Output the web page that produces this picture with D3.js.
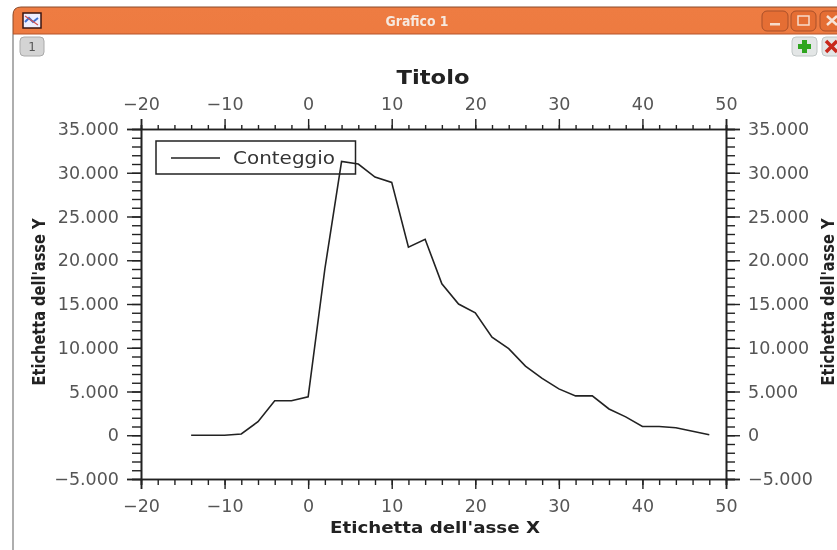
<!DOCTYPE html>
<html><head><meta charset="utf-8">
<script src="https://cdn.jsdelivr.net/npm/d3@7/dist/d3.min.js"></script>
<style>html,body{margin:0;padding:0;background:#fff;overflow:hidden}svg{display:block}</style>
</head><body><svg id="c" width="837" height="550"></svg>
<script>
const xValues=[-14,-12,-10,-8,-6,-4,-2,0,2,4,6,8,10,12,14,16,18,20,22,24,26,28,30,32,34,36,38,40,42,44,46,48];
const counts=[0,0,0,150,1550,3950,3950,4400,19000,31300,31000,29500,28900,21500,22400,17300,15000,14000,11200,9900,7900,6500,5300,4500,4500,3000,2100,1000,1000,850,450,50];
const xTicks=[-20,-10,0,10,20,30,40,50];
const yTicks=[-5000,0,5000,10000,15000,20000,25000,30000,35000];
const xMinor=d3.range(-20,51,2);
const yMinor=d3.range(-5000,35001,1000);
const seriesName="Conteggio",chartTitle="Titolo",xLabel="Etichetta dell'asse X",yLabel="Etichetta dell'asse Y",windowTitle="Grafico 1";

const svg=d3.select("#c");
const defs=svg.append("defs");
const g0=defs.append("linearGradient").attr("id","bar").attr("x1",0).attr("x2",0).attr("y1",0).attr("y2",1);
g0.append("stop").attr("offset",0).attr("stop-color","#ee7c42");
g0.append("stop").attr("offset",0.5).attr("stop-color","#e56e34");
g0.append("stop").attr("offset",1).attr("stop-color","#d9622b");
defs.append("filter").attr("id","soft").attr("color-interpolation-filters","sRGB").attr("filterUnits","userSpaceOnUse").attr("x",0).attr("y",0).attr("width",837).attr("height",550)
 .append("feGaussianBlur").attr("stdDeviation",0.5);
const root=svg.append("g").attr("filter","url(#soft)");

// window frame
root.append("path").attr("d","M13,550V15Q13,7 21,7H837V34H13").attr("fill","url(#bar)");
root.append("path").attr("d","M13,34V15Q13,7 21,7H837").attr("fill","none").attr("stroke","#8a4a2a").attr("stroke-width",1);
root.append("line").attr("x1",13).attr("x2",13).attr("y1",34).attr("y2",550).attr("stroke","#8c8c8c").attr("stroke-width",1.4);
root.append("line").attr("x1",13).attr("x2",837).attr("y1",34).attr("y2",34).attr("stroke","#b5552a");
root.append("text").attr("x",417).attr("y",26).attr("text-anchor","middle").attr("fill","#f6e9df")
 .attr("font-family","DejaVu Sans").attr("font-weight","bold").attr("font-size",14).attr("textLength",63).attr("lengthAdjust","spacingAndGlyphs").text(windowTitle);
// window icon
root.append("rect").attr("x",23).attr("y",13).attr("width",18).attr("height",15).attr("fill","#eef").attr("stroke","#3a1510").attr("stroke-width",1.5);
root.append("path").attr("d","M25,22L29,18L33,22L38,18").attr("fill","none").attr("stroke","#3c6fd0").attr("stroke-width",2);
root.append("path").attr("d","M25,16L38,25").attr("fill","none").attr("stroke","#d05050").attr("stroke-width",1.2);
// window buttons
[[762,26],[791,25],[820,25]].forEach(([bx,bw])=>{
 root.append("rect").attr("x",bx).attr("y",11).attr("width",bw).attr("height",20).attr("rx",5).attr("fill","#e56e34").attr("stroke","#a9502a").attr("stroke-width",1);
});
root.append("rect").attr("x",770).attr("y",23).attr("width",10).attr("height",2.5).attr("fill","#f7dccb");
root.append("rect").attr("x",798).attr("y",16).attr("width",11).attr("height",9).attr("fill","none").attr("stroke","#f7dccb").attr("stroke-width",1.5);
root.append("path").attr("d","M827,16L837,25M837,16L827,25").attr("stroke","#f7e4d8").attr("stroke-width",2.5);
// tab and toolbar buttons
root.append("rect").attr("x",20).attr("y",37).attr("width",24).attr("height",19).attr("rx",4).attr("fill","#d4d4d4").attr("stroke","#aaa");
root.append("text").attr("x",32).attr("y",51).attr("text-anchor","middle").attr("font-family","DejaVu Sans").attr("font-size",12).attr("fill","#555").text("1");
[792,822].forEach(bx=>root.append("rect").attr("x",bx).attr("y",37).attr("width",25).attr("height",19).attr("rx",4).attr("fill","#e3e6e6").attr("stroke","#c0c6c6"));
root.append("path").attr("d","M804.5,40V53M798,46.5H811").attr("stroke","#2fa51f").attr("stroke-width",5);
root.append("path").attr("d","M826,41L837,52M837,41L826,52").attr("stroke","#c8281c").attr("stroke-width",3.5);

// plot
const x=d3.scaleLinear().domain([-20,50]).range([141,726]);
const y=d3.scaleLinear().domain([-5000,35000]).range([479,129]);
const fmt=v=>(v<0?"\u2212":"")+d3.format(",")(Math.abs(v)).replace(/,/g,".");
const axisCol="#222",txt="#555";
const font="DejaVu Sans";

function draw(axis,minorAxis,pos){
 const m=root.append("g").attr("transform",pos).call(minorAxis);
 const a=root.append("g").attr("transform",pos).call(axis);
 [m,a].forEach(s=>{
  s.selectAll(".domain").attr("stroke",axisCol).attr("stroke-width",1.6);
  s.selectAll("line").attr("stroke",axisCol).attr("stroke-width",1.4);
  s.selectAll("text").attr("font-family",font).attr("font-size",17.5).attr("fill",txt);
 });
 m.selectAll("text").remove();
}
const noLabel=()=>"";
draw(d3.axisTop(x).tickValues(xTicks).tickFormat(fmt).tickSize(10).tickPadding(9),
     d3.axisTop(x).tickValues(xMinor).tickFormat(noLabel).tickSize(4),"translate(0,129)");
draw(d3.axisBottom(x).tickValues(xTicks).tickFormat(fmt).tickSize(10).tickPadding(11),
     d3.axisBottom(x).tickValues(xMinor).tickFormat(noLabel).tickSize(6),"translate(0,479)");
draw(d3.axisLeft(y).tickValues(yTicks).tickFormat(fmt).tickSize(14).tickPadding(8),
     d3.axisLeft(y).tickValues(yMinor).tickFormat(noLabel).tickSize(9),"translate(141,0)");
draw(d3.axisRight(y).tickValues(yTicks).tickFormat(fmt).tickSize(14).tickPadding(8),
     d3.axisRight(y).tickValues(yMinor).tickFormat(noLabel).tickSize(9),"translate(726,0)");

const line=d3.line().x((d,i)=>x(xValues[i])).y(d=>y(d));
root.append("path").datum(counts).attr("d",line).attr("fill","none").attr("stroke","#222").attr("stroke-width",1.6);

// legend
root.append("rect").attr("x",156).attr("y",141).attr("width",199.5).attr("height",33).attr("fill","none").attr("stroke","#222").attr("stroke-width",1.5);
root.append("line").attr("x1",171).attr("x2",220).attr("y1",158).attr("y2",158).attr("stroke","#222").attr("stroke-width",1.4);
root.append("text").attr("x",233).attr("y",164).attr("font-family",font).attr("font-size",18).attr("fill","#333")
 .attr("textLength",102).attr("lengthAdjust","spacingAndGlyphs").text(seriesName);

// titles
const bold=(t,xx,yy,size,len,rot)=>root.append("text").attr("text-anchor","middle").attr("font-family",font).attr("font-weight","bold")
 .attr("font-size",size).attr("fill","#222").attr("textLength",len).attr("lengthAdjust","spacingAndGlyphs")
 .attr("transform",`translate(${xx},${yy})`+(rot?` rotate(${rot})`:"")).text(t);
bold(chartTitle,433,84,20,73);
bold(xLabel,435,533,16,210);
bold(yLabel,45,302,17,167,-90);
bold(yLabel,834,302,17,167,-90);
</script></body></html>
